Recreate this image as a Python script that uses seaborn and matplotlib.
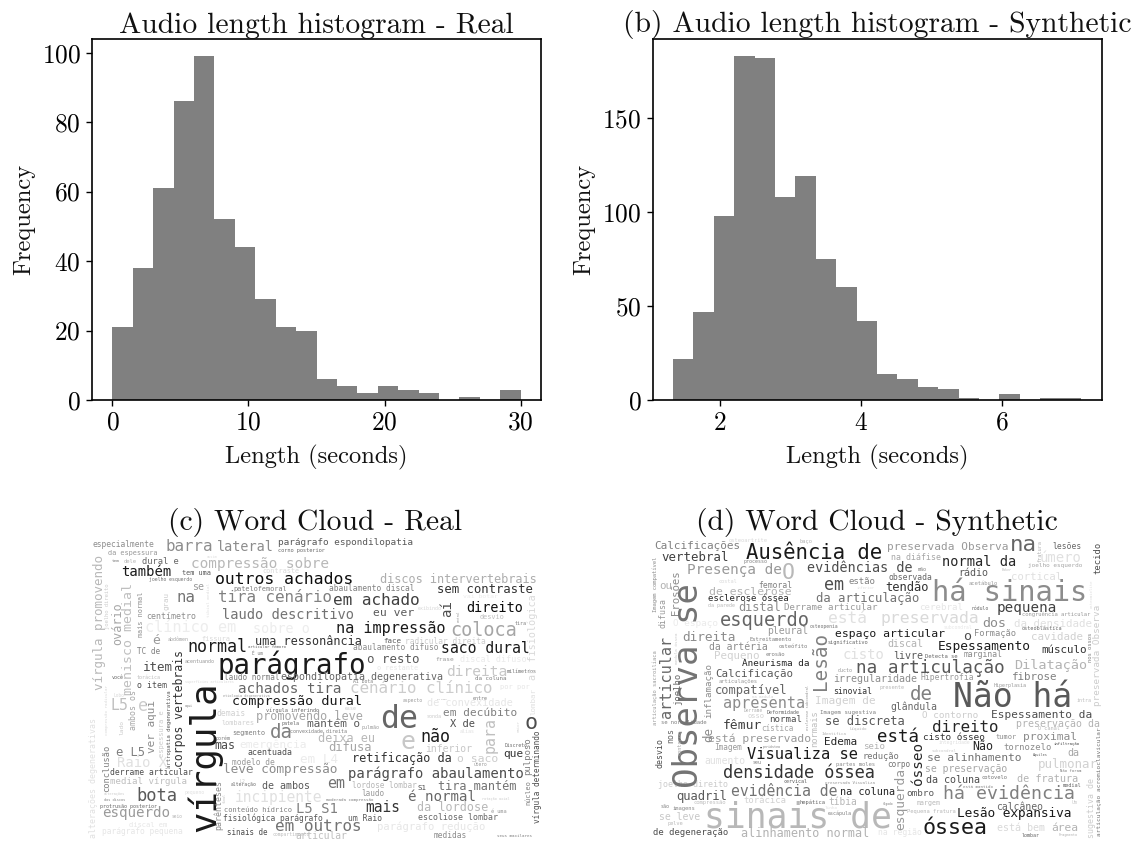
import matplotlib
matplotlib.use("Agg")
import matplotlib.pyplot as plt
import seaborn as sns

# histogram values
edges_real = [0, 1.5, 3, 4.5, 6, 7.5, 9, 10.5, 12, 13.5, 15, 16.5, 18, 19.5, 21, 22.5, 24, 25.5, 27, 28.5, 30]
counts_real = [21, 38, 61, 86, 99, 52, 44, 29, 21, 20, 6, 4, 2, 4, 3, 2, 0, 1, 0, 3]
edges_syn = [1.34, 1.629, 1.918, 2.207, 2.496, 2.785, 3.074, 3.363, 3.652, 3.941, 4.23, 4.519, 4.808, 5.097,
             5.386, 5.675, 5.964, 6.253, 6.542, 6.831, 7.12]
counts_syn = [22, 47, 98, 183, 182, 108, 119, 75, 60, 42, 14, 11, 7, 6, 1, 0, 3, 0, 1, 1]
ticks_real = [0, 10, 20, 30]
ticks_syn = [2, 4, 6]

# word cloud (c): horizontal words
words_c = ["especialmente", "da espessura", "barra", "lateral", "parágrafo espondilopatia", "corno posterior",
           "tem", "dele", "dural e", "compressão sobre", "também", "tem uma", "assim", "contraste",
           "outros achados", "joelho esquerdo", "se", "patelofemoral", "abaulamento discal",
           "discos intervertebrais", "na", "tira cenário", "em achado", "sem contraste", "direito", "eu ver",
           "exibindo", "vai botar", "desvio", "laudo descritivo", "centímetro", "clínico em", "sobre o",
           "na impressão", "coloca", "tira", "é", "abdômen", "fissura", "normal", "uma ressonância",
           "articular fêmoro", "É um", "face", "radicular direita", "abaulamento difuso", "saco dural", "TC de",
           "acentuando", "parágrafo", "item", "o resto", "frase", "discal difuso", "o restante", "direita",
           "milímetros", "laudo normal", "espondilopatia degenerativa", "da coluna", "Aí bota", "você",
           "torácica", "superfícies articulares", "o item", "Lobo", "L5", "e", "aqui", "porém", "demais",
           "lombares", "etiologia degenerativa", "achados tira", "cenário clínico", "por por",
           "compressão dural", "vírgula inferindo", "promovendo leve", "patela", "mantém o",
           "convexidade direita", "pulmão", "segmento", "da", "deixa eu", "difusa", "emergência", "acentuada",
           "mas", "em L4", "modelo de", "leve compressão", "retificação da", "parágrafo abaulamento", "o saco",
           "útero", "que", "Discreto", "inferior", "não", "e", "de", "em decúbito", "X de", "de convexidade",
           "aspecto", "os seus", "entre", "esse", "sonda", "alías", "o", "tira mantém", "lordose lombar", "S1",
           "é normal", "laudo", "moderada compressão", "rotação axial", "L5 S1", "mais", "da lordose", "é uma",
           "escoliose lombar", "um Raio", "parágrafo redução", "em outros", "medidas", "seus maxilares",
           "articular", "Raio X", "e L5", "derrame articular", "medial vírgula", "bota", "alterações",
           "dos discos", "protrusão posterior", "esquerdo", "seio", "pequeno", "discal em", "parágrafo pequena",
           "L2", "alteração", "de ambos", "em", "incipiente", "conteúdo hídrico", "fisiológica parágrafo",
           "sinais de", "compartimento"]
# word cloud (c): vertical words
words_c_v = ["vírgula promovendo", "mais normal", "grau", "joelho direito", "ovário", "menisco medial",
             "tibial medial", "aí", "central", "ar fisiológica", "corpos vertebrais", "vírgula",
             "alterações degenerativas", "compressão radicular", "lado", "ambos os", "ver aqui", "espessura e",
             "artropatia degenerativa", "para", "maior", "lombar", "pulposo", "núcleo", "vírgula determinando",
             "conclusão", "parênteses", "final"]

# word cloud (d): horizontal words
words_d = ["Calcificações", "osteoartrite", "baço", "vertebral", "Ausência de", "processo", "Presença de", "O",
           "evidências de", "mão", "ou", "costal", "femoral", "de esclerose", "esclerose óssea", "da parede",
           "distal", "Derrame articular", "em", "estão", "inferior", "da articulação", "esquerdo", "está",
           "O espaço", "pleural", "osteopenia", "significativo", "espaço articular", "direita", "Estreitamento",
           "da artéria", "osteófito", "Pequeno", "erosão", "Aneurisma da", "Calcificação", "articulações",
           "cisto", "livre", "Detecta se", "marginal", "ducto", "na articulação", "irregularidade",
           "Hipertrofia", "preservada Observa", "na", "lesões", "na diáfise", "normal da", "úmero",
           "joelho esquerdo", "rádio", "Baker", "cortical", "observada", "tendão", "acetábulo", "há sinais",
           "cerebral", "nódulo", "pequena", "congruência articular", "preservada", "dos", "da densidade",
           "subcondral", "osteoblástica", "Formação", "o", "cavidade", "discal", "Espessamento", "músculo",
           "Dilatação", "fibrose", "Hiperplasia", "se normalidade", "compatível", "na medula", "apresenta",
           "Imagem de", "sinovial", "Derrame", "Deformidade", "osso", "normal", "Imagem sugestiva", "fêmur",
           "cística", "se discreta", "Líquido", "Identifica", "está preservado", "Edema", "seio", "Imagem",
           "periósteo", "Visualiza se", "redução", "aumento", "seu", "partes moles", "corpo",
           "densidade óssea", "joelho direito", "cervical", "preservada Visualiza", "evidência de",
           "na coluna", "quadril", "torácica", "compressão", "hepática", "tíbia", "são", "imagens", "sinais de",
           "se leve", "pelve", "linho", "escápula", "de degeneração", "alinhamento normal", "presente", "de",
           "Não há", "intra", "glândula", "O contorno", "Espessamento da", "preservação da", "O canal",
           "direito", "tumor", "proximal", "está", "cisto ósseo", "integridade", "infiltração", "subcondral",
           "Não", "tornozelo", "Aquiles", "da", "se alinhamento", "pulmonar", "se preservação", "Não foram",
           "da coluna", "cotovelo", "de fratura", "há evidência", "está mantido", "medial", "ombro", "Um",
           "fígado", "margem", "calcâneo", "Pequena fratura", "Lesão expansiva", "óssea", "está bem", "área",
           "na região", "lombar", "Fragmento"]
# word cloud (d): vertical words
words_d_v = ["Imagem compatível", "Erosões", "Observa se", "difusa", "Lesão", "articular", "medula óssea",
             "articulação sacroilíaca", "joelho", "inflamação", "de", "fratura", "tecido", "osteomielite",
             "preservada Observa", "nos ossos", "nos", "desvio", "contorno", "esclerose subcondral", "normais",
             "articulação acromioclavicular", "ósseo", "esquerda", "sugestiva de"]

sns.set_theme(style="ticks", rc={"axes.edgecolor": "black", "xtick.color": "black", "ytick.color": "black",
                                 "text.color": "#111111", "axes.labelcolor": "#111111",
                                 "axes.linewidth": 1.2, "xtick.major.size": 4.5, "ytick.major.size": 4.5,
                                 "xtick.major.width": 1.0, "ytick.major.width": 1.0})
plt.rcParams["font.family"] = "cmr10"
plt.rcParams["axes.formatter.use_mathtext"] = True

W, H, DPI = 1138, 843, 100
fig = plt.figure(figsize=(W / DPI, H / DPI), dpi=DPI)


def px_axes(x0, y0, x1, y1):
    return fig.add_axes([x0 / W, 1 - y1 / H, (x1 - x0) / W, (y1 - y0) / H])


def histogram(box, edges, counts, ticks, title):
    ax = px_axes(*box)
    sns.histplot(x=edges[:-1], weights=counts, bins=edges, color="gray", alpha=1, linewidth=0, ax=ax)
    ax.set_xticks(ticks)
    ax.tick_params(labelsize=18.3, pad=3.5)
    ax.set_xlabel("Length (seconds)", fontsize=17.6, labelpad=7)
    ax.set_ylabel("Frequency", fontsize=17.6, labelpad=5)
    ax.set_title(title, fontsize=21.3, pad=2)
    return ax


# x0, x1, y, gray for every horizontal word of (c)
layout_c = [(92, 154, 545, .55), (108, 158, 553, .6), (165, 213, 547, .55), (217, 274, 547, .55),
            (277, 413, 543, .35), (277, 325, 551, .4), (112, 120, 561, .5), (124, 137, 562, .7),
            (142, 179, 562, .4), (191, 329, 564, .72), (121, 171, 572, .1), (182, 211, 573, .35),
            (207, 218, 557, .88), (262, 299, 571, .85), (215, 353, 580, .05), (149, 193, 580, .45),
            (192, 204, 587, .6), (233, 287, 589, .5), (329, 415, 589, .5), (380, 537, 580, .68),
            (177, 196, 598, .45), (217, 332, 598, .5), (333, 420, 601, .25), (437, 533, 590, .2),
            (466, 523, 608, .05), (373, 414, 613, .35), (418, 442, 609, .85), (463, 498, 597, .92),
            (480, 505, 617, .75), (221, 354, 615, .45), (146, 196, 617, .55), (145, 237, 628, .93),
            (253, 310, 629, .93), (336, 446, 629, .1), (450, 517, 631, .65), (515, 527, 624, .5),
            (152, 160, 641, .6), (168, 189, 640, .65), (201, 230, 639, .85), (187, 247, 647, .1),
            (255, 362, 642, .2), (247, 286, 647, .4), (252, 263, 653, .5), (383, 401, 641, .35),
            (405, 486, 642, .8), (353, 438, 648, .55), (441, 530, 649, .1), (137, 160, 652, .5),
            (185, 215, 662, .6), (217, 366, 665, .1), (143, 173, 668, .3), (367, 419, 660, .35),
            (435, 454, 660, .6), (460, 527, 660, .92), (377, 418, 668, .9), (446, 507, 672, .78),
            (507, 537, 672, .45), (224, 280, 678, .5), (281, 443, 677, .4), (475, 507, 679, .5),
            (353, 373, 682, .5), (112, 124, 678, .4), (137, 161, 678, .75), (185, 233, 682, .85),
            (137, 167, 686, .3), (113, 124, 696, .85), (110, 128, 706, .75), (138, 148, 706, .8),
            (185, 193, 706, .5), (215, 230, 738, .5), (217, 246, 714, .82), (221, 254, 723, .82),
            (223, 270, 696, .6), (238, 341, 689, .4), (350, 493, 689, .8), (500, 530, 687, .9),
            (232, 362, 702, .1), (266, 320, 710, .4), (256, 363, 717, .65), (282, 300, 724, .4),
            (307, 360, 724, .35), (290, 348, 732, .5), (362, 380, 728, .6), (232, 265, 733, .5),
            (270, 293, 733, .5), (318, 375, 739, .72), (328, 372, 748, .65), (240, 307, 745, .92),
            (247, 292, 753, .3), (214, 235, 746, .3), (300, 338, 760, .92), (232, 275, 763, .6),
            (223, 338, 770, .55), (352, 452, 759, .2), (348, 523, 774, .3), (457, 498, 759, .8),
            (473, 487, 765, .6), (503, 523, 754, .2), (505, 528, 746, .4), (425, 472, 749, .78),
            (420, 450, 737, .1), (400, 415, 742, .78), (380, 418, 720, .4), (443, 517, 713, .5),
            (450, 475, 724, .3), (427, 513, 703, .9), (403, 423, 701, .6), (437, 447, 700, .6),
            (473, 488, 699, .5), (345, 357, 709, .8), (427, 442, 717, .8), (460, 475, 732, .88),
            (524, 537, 723, .3), (438, 517, 787, .45), (352, 417, 786, .72), (418, 427, 788, .3),
            (408, 476, 797, .4), (361, 384, 794, .6), (326, 373, 800, .5), (482, 510, 799, .8),
            (296, 338, 809, .5), (365, 400, 808, .2), (417, 488, 808, .72), (491, 507, 812, .6),
            (418, 498, 818, .4), (348, 382, 819, .35), (378, 485, 827, .9), (275, 362, 827, .45),
            (434, 467, 836, .55), (497, 532, 836, .5), (295, 347, 836, .75), (117, 167, 763, .88),
            (116, 145, 753, .5), (110, 192, 773, .3), (110, 187, 782, .75), (136, 177, 796, .35),
            (103, 125, 794, .8), (104, 125, 800, .5), (100, 157, 807, .4), (102, 170, 813, .6),
            (172, 183, 817, .7), (185, 205, 793, .88), (129, 168, 825, .9), (102, 183, 832, .9),
            (240, 246, 782, .8), (231, 257, 785, .4), (262, 310, 786, .35), (327, 345, 784, .45),
            (235, 323, 798, .88), (225, 292, 810, .5), (223, 322, 818, .35), (227, 268, 833, .3),
            (273, 310, 835, .75)]
# x, y0, y1, gray for every vertical word of (c)
layout_c_v = [(99, 555, 690, .72), (141, 592, 637, .55), (166, 592, 610, .8), (108, 583, 630, .8),
              (118, 602, 645, .65), (129, 583, 695, .75), (209, 583, 617, .88), (447, 600, 617, .3),
              (459, 611, 622, .55), (533, 595, 680, .85), (180, 650, 768, .2), (205, 682, 832, .1),
              (94, 718, 838, .88), (107, 685, 735, .85), (122, 720, 735, .8), (134, 690, 730, .65),
              (152, 700, 753, .55), (162, 710, 757, .8), (170, 690, 768, .35), (490, 717, 753, .75),
              (519, 720, 732, .85), (533, 688, 715, .88), (528, 737, 775, .5), (528, 780, 805, .5),
              (537, 730, 823, .3), (107, 745, 792, .5), (219, 780, 830, .55), (225, 793, 803, .75)]

# x0, x1, y, gray for every horizontal word of (d)
layout_d = [(654, 740, 546, .5), (729, 768, 541, .85), (800, 813, 542, .7), (662, 729, 558, .25),
            (746, 883, 553, .1), (744, 768, 562, .5), (687, 782, 570, .6), (782, 795, 573, .72),
            (807, 913, 568, .3), (918, 927, 570, .5), (659, 672, 586, .7), (718, 737, 582, .85),
            (758, 792, 586, .5), (709, 792, 592, .7), (708, 789, 599, .15), (708, 735, 606, .72),
            (738, 781, 608, .55), (784, 878, 608, .6), (824, 844, 585, .3), (848, 875, 582, .5),
            (857, 875, 588, .88), (816, 919, 599, .45), (720, 810, 621, .4), (828, 867, 619, .88),
            (673, 718, 624, .92), (767, 808, 631, .6), (809, 838, 627, .45), (827, 868, 643, .4),
            (835, 945, 634, .1), (682, 736, 638, .55), (749, 792, 640, .5), (709, 768, 647, .55),
            (778, 808, 647, .5), (714, 760, 656, .82), (765, 785, 655, .5), (742, 810, 664, .15),
            (715, 793, 674, .35), (718, 758, 682, .6), (843, 885, 655, .88), (893, 923, 656, .35),
            (925, 958, 657, .4), (964, 1003, 655, .55), (838, 853, 671, .6), (856, 1005, 668, .35),
            (833, 917, 679, .55), (921, 974, 678, .6), (887, 1008, 547, .6), (1010, 1037, 545, .4),
            (1053, 1082, 547, .4), (891, 941, 558, .65), (942, 1016, 562, .15), (1040, 1082, 558, .88),
            (1028, 1082, 566, .65), (958, 988, 573, .35), (1002, 1012, 570, .75), (1011, 1062, 577, .88),
            (888, 932, 578, .4), (885, 929, 588, .2), (968, 998, 584, .6), (932, 1088, 593, .55),
            (919, 963, 608, .9), (972, 989, 609, .4), (997, 1057, 608, .25), (1022, 1091, 614, .6),
            (880, 979, 619, .85), (982, 1006, 624, .55), (1013, 1092, 624, .88), (943, 972, 628, .9),
            (1022, 1062, 629, .4), (974, 1016, 634, .55), (963, 971, 637, .3), (1031, 1083, 637, .82),
            (887, 923, 644, .7), (938, 1031, 647, .1), (1041, 1087, 650, .2), (1014, 1087, 666, .7),
            (1012, 1058, 677, .5), (994, 1027, 686, .6), (660, 707, 723, .5), (715, 788, 691, .4),
            (752, 773, 697, .82), (723, 805, 704, .55), (815, 875, 701, .82), (833, 872, 692, .2),
            (744, 763, 711, .7), (767, 800, 713, .4), (748, 765, 716, .82), (769, 802, 720, .3),
            (820, 875, 713, .5), (723, 762, 726, .25), (761, 793, 729, .65), (825, 905, 722, .35),
            (849, 867, 729, .72), (822, 847, 734, .7), (708, 811, 739, .6), (824, 857, 742, .15),
            (863, 885, 747, .7), (714, 742, 748, .6), (763, 781, 747, .5), (747, 858, 755, .1),
            (862, 899, 757, .45), (704, 745, 761, .88), (753, 762, 763, .5), (835, 875, 765, .55),
            (887, 910, 765, .45), (722, 875, 773, .2), (658, 729, 785, .8), (784, 808, 782, .35),
            (825, 875, 783, .6), (731, 838, 792, .45), (840, 895, 792, .15), (676, 727, 797, .35),
            (743, 786, 801, .82), (693, 726, 803, .75), (800, 826, 802, .4), (828, 857, 802, .72),
            (661, 670, 807, .5), (672, 695, 809, .55), (704, 892, 818, .72), (659, 700, 817, .78),
            (667, 683, 824, .72), (825, 838, 808, .88), (828, 852, 813, .5), (653, 728, 833, .3),
            (741, 869, 834, .7), (879, 904, 688, .72), (910, 933, 695, .5), (953, 1072, 698, .35),
            (1077, 1092, 701, .75), (890, 937, 707, .4), (922, 978, 716, .8), (991, 1092, 715, .3),
            (1017, 1100, 724, .7), (1038, 1060, 729, .72), (932, 999, 728, .15), (996, 1017, 737, .55),
            (1023, 1077, 737, .55), (877, 919, 737, .1), (923, 985, 738, .2), (938, 970, 743, .88),
            (1054, 1080, 744, .25), (932, 957, 751, .8), (972, 993, 747, .15), (1004, 1052, 748, .55),
            (1033, 1048, 755, .35), (1067, 1079, 753, .65), (927, 1022, 758, .45), (1038, 1098, 765, .82),
            (925, 1007, 769, .65), (1060, 1081, 771, .5), (926, 980, 780, .3), (981, 1007, 778, .45),
            (1017, 1078, 779, .7), (943, 1075, 794, .5), (963, 993, 787, .5), (1063, 1082, 786, .4),
            (906, 934, 794, .35), (1072, 1078, 803, .8), (882, 893, 804, .5), (917, 941, 803, .72),
            (996, 1043, 807, .4), (907, 956, 812, .72), (957, 1072, 814, .1), (923, 988, 828, .1),
            (997, 1045, 828, .85), (1051, 1078, 828, .7), (878, 922, 833, .9), (1022, 1040, 836, .4),
            (1059, 1078, 835, .7)]
# x, y0, y1, gray for every vertical word of (d)
layout_d_v = [(655, 556, 612, .55), (676, 570, 615, .55), (689, 583, 788, .45), (663, 598, 628, .6),
              (820, 632, 690, .5), (667, 636, 718, .4), (677, 632, 664, .8), (655, 650, 725, .6),
              (678, 673, 705, .4), (709, 663, 718, .55), (709, 727, 742, .55), (1040, 540, 562, .7),
              (1098, 542, 574, .3), (1092, 580, 608, .88), (1098, 605, 705, .8), (1090, 632, 662, .5),
              (671, 728, 743, .4), (660, 738, 768, .3), (680, 730, 755, .65), (808, 685, 730, .6),
              (815, 710, 747, .75), (1099, 728, 835, .45), (918, 742, 785, .15), (901, 768, 830, .6),
              (1092, 778, 838, .8)]


def word_cloud(box, h_words, h_layout, v_words, v_layout, title):
    ax = px_axes(*box)
    ax.set_xlim(box[0], box[2])
    ax.set_ylim(box[3], box[1])
    ax.axis("off")
    ax.set_title(title, fontsize=21.3, pad=3)
    for word, (x0, x1, y, g) in zip(h_words, h_layout, strict=True):
        size = (x1 - x0) / (len(word) * 0.602) * 72 / DPI
        ax.text((x0 + x1) / 2, y, word, family="DejaVu Sans Mono", fontsize=size, color=str(g),
                ha="center", va="center")
    for word, (x, y0, y1, g) in zip(v_words, v_layout, strict=True):
        size = (y1 - y0) / (len(word) * 0.602) * 72 / DPI
        ax.text(x, (y0 + y1) / 2, word, family="DejaVu Sans Mono", fontsize=size, color=str(g),
                ha="center", va="center", rotation=90)


histogram((92, 39, 541, 400), edges_real, counts_real, ticks_real, "Audio length histogram - Real")
histogram((652.5, 39, 1101.5, 400), edges_syn, counts_syn, ticks_syn, "(b) Audio length histogram - Synthetic")
word_cloud((90, 537, 540, 840), words_c, layout_c, words_c_v, layout_c_v, "(c) Word Cloud - Real")
word_cloud((652, 537, 1102, 840), words_d, layout_d, words_d_v, layout_d_v, "(d) Word Cloud - Synthetic")

fig.savefig("out.png", dpi=DPI)
